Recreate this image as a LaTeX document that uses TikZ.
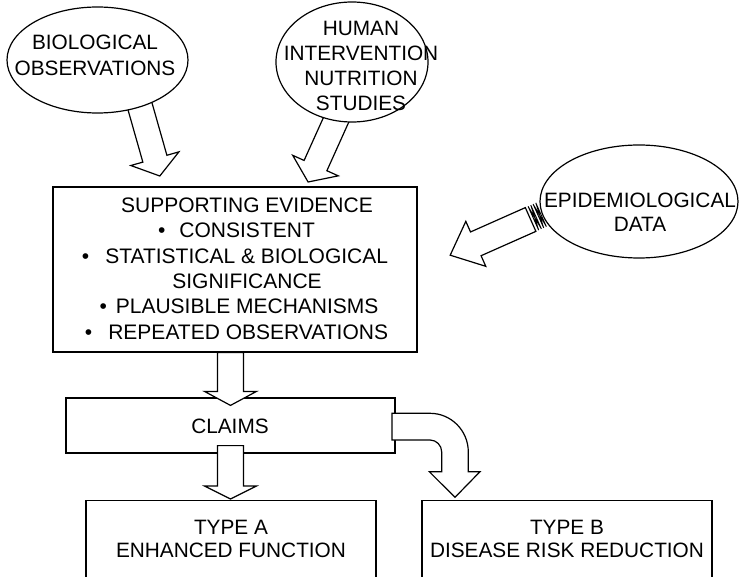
\documentclass[tikz,border=0pt]{standalone}
\usepackage{fontspec}
\setmainfont{Liberation Sans}
\usetikzlibrary{shapes.geometric,calc}

\tikzset{
  lbl/.style={inner sep=0pt, align=center, font=\fontsize{20.8}{25}\selectfont},
  panel/.style={draw, fill=white, rectangle, inner sep=0pt},
  bubble/.style={draw, fill=white, ellipse, inner sep=0pt},
  blockarrow/.style={draw, fill=white, line join=miter},
}

% block arrow: #1 tail, #2 tip, #3 half shaft width, #4 half head width, #5 head length
\newcommand\blockarrow[5]{%
  \coordinate (ah) at ($(#2)!#5!(#1)$);
  \draw[blockarrow] (#2) -- ($(ah)!#4!90:(#2)$) -- ($(ah)!#3!90:(#2)$)
    -- ($(#1)!#3!90:(#2)$) -- ($(#1)!#3!-90:(#2)$)
    -- ($(ah)!#3!-90:(#2)$) -- ($(ah)!#4!-90:(#2)$) -- cycle;
}
% one stripe of a striped tail: #1 tip, #2 far point, #3 from, #4 to, #5 half width
\newcommand\tailstripe[5]{%
  \coordinate (sa) at ($(#1)!#3!(#2)$);
  \coordinate (sb) at ($(#1)!#4!(#2)$);
  \draw[blockarrow, line width=0.9pt] ($(sa)!#5!90:(#1)$) -- ($(sb)!#5!-90:(#1)$) -- ($(sb)!#5!90:(#1)$) -- ($(sa)!#5!-90:(#1)$) -- cycle;
}

\begin{document}
\begin{tikzpicture}[x=1pt, y=-1pt, line width=1.2pt]
\clip (0,0) rectangle (739,577);
\fill[white] (0,0) rectangle (739,577);

% boxes
\node[panel, minimum width=364pt, minimum height=165pt] (evid) at (235,269.5) {};
\node[panel, minimum width=329pt, minimum height=55pt] (claims) at (230.5,425.5) {};
\node[panel, minimum width=290pt, minimum height=120pt, anchor=north] (typeA) at (231,500) {};
\node[panel, minimum width=290pt, minimum height=120pt, anchor=north] (typeB) at (567,500) {};

% straight arrows down the middle
\coordinate (a1s) at (evid.south -| claims.north);
\coordinate (a1e) at ($(claims.north)+(0,8)$);
\blockarrow{a1s}{a1e}{13pt}{26pt}{14pt}
\coordinate (a2s) at ($(claims.south)+(0,-8)$);
\coordinate (a2e) at ($(claims.south |- typeA.north)+(0,-1)$);
\blockarrow{a2s}{a2e}{13pt}{26pt}{13pt}

% bent arrow towards type B
\draw[blockarrow] (392,413.3) -- (430,413.3)
  .. controls (451.2,413.3) and (468.3,430.6) .. (468.3,452)
  -- (468.3,471.7) -- (480,471.7) -- (455,497.3) -- (429.3,471.7) -- (441.7,471.7)
  -- (441.7,452) .. controls (441.7,445.4) and (436.5,440) .. (430,440)
  -- (392,440) -- cycle;

% arrows from the sources
\coordinate (bioS) at (139.3,103.9);
\coordinate (bioT) at (159.8,176);
\blockarrow{bioS}{bioT}{12.5pt}{25pt}{18pt}
\coordinate (humS) at (345,100.1);
\coordinate (humT) at (308.1,182);
\blockarrow{humS}{humT}{12.5pt}{25pt}{18pt}
\coordinate (epiS) at (530.6,219.5);
\coordinate (epiT) at (450.2,255.2);
\coordinate (epiF) at (550.7,210.5);
\blockarrow{epiS}{epiT}{13pt}{24.6pt}{28pt}
\tailstripe{epiT}{epiF}{91pt}{94pt}{13pt}
\tailstripe{epiT}{epiF}{96.5pt}{99.5pt}{13pt}

% source ellipses
\node[bubble, minimum width=181pt, minimum height=106pt] (bio) at (97.5,60) {};
\node[bubble, minimum width=152pt, minimum height=120pt] (human) at (352,62) {};
\node[bubble, minimum width=198pt, minimum height=113pt] (epi) at (639,201.5) {};

% texts
\node[lbl, font=\fontsize{20.8}{26}\selectfont] (biotxt) at (95,55) {BIOLOGICAL\\OBSERVATIONS};
\node[lbl, font=\fontsize{20.8}{25}\selectfont] (humtxt) at (361,65.5) {HUMAN\\INTERVENTION\\NUTRITION\\STUDIES};
\node[lbl, font=\fontsize{20.8}{24}\selectfont] (epitxt) at (640,212) {EPIDEMIOLOGICAL\\DATA};
\node[lbl, font=\fontsize{21}{25.4}\selectfont] (evidtxt) at (235,268.5)
  {\hspace*{24pt}SUPPORTING EVIDENCE\\
   \hspace*{3pt}\textbullet\hspace{14pt}CONSISTENT\\
   \textbullet\hspace{16pt}STATISTICAL \& BIOLOGICAL\\
   \hspace*{24pt}SIGNIFICANCE\\
   \hspace*{8pt}\textbullet\hspace{9pt}PLAUSIBLE MECHANISMS\\
   \hspace*{3pt}\textbullet\hspace{16pt}REPEATED OBSERVATIONS};
\node[lbl] (claimstxt) at (230,426) {CLAIMS};
\node[lbl, font=\fontsize{20.8}{23}\selectfont] (typeAtxt) at (231,538.5) {TYPE A\\ENHANCED FUNCTION};
\node[lbl, font=\fontsize{20.8}{23}\selectfont] (typeBtxt) at (567,538.5) {TYPE B\\DISEASE RISK REDUCTION};
\end{tikzpicture}
\end{document}
